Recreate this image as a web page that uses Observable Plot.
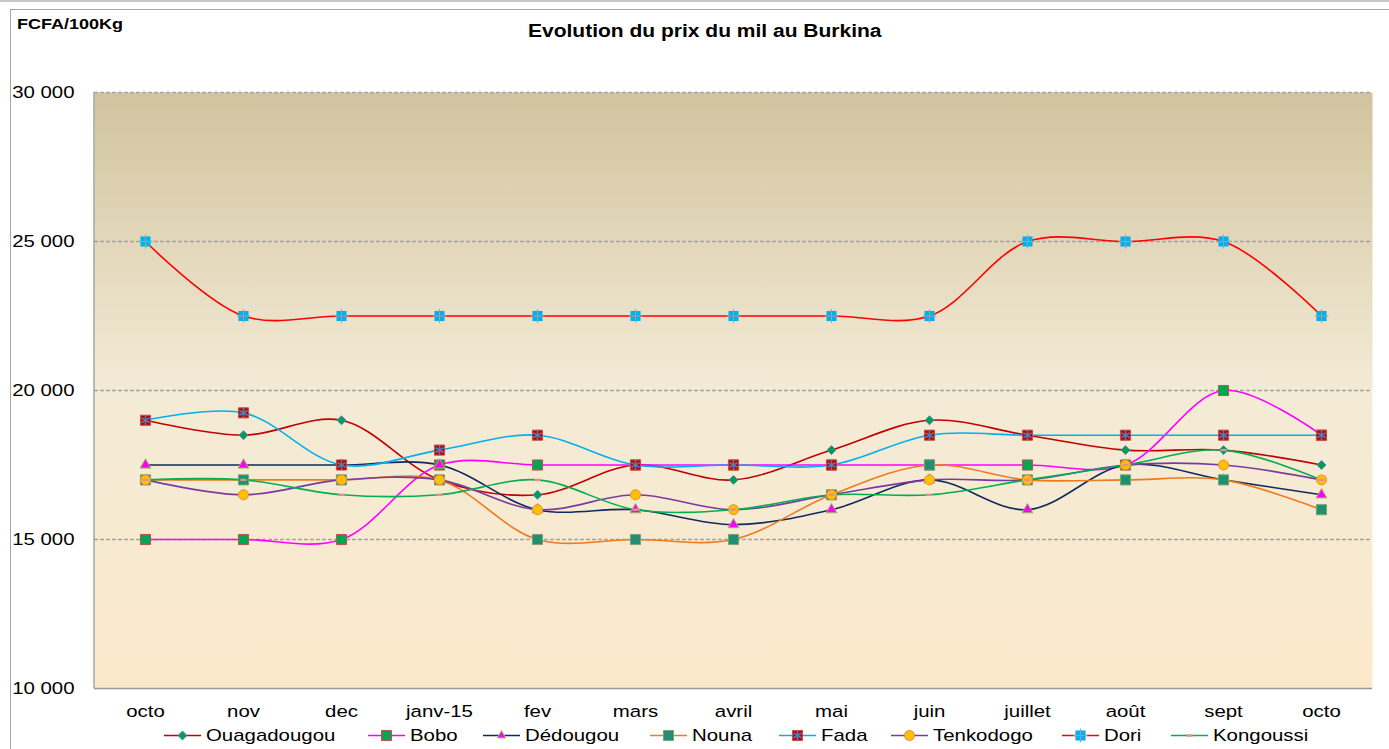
<!DOCTYPE html>
<html><head><meta charset="utf-8">
<script src="https://cdn.jsdelivr.net/npm/d3@7"></script>
<script src="https://cdn.jsdelivr.net/npm/@observablehq/plot@0.6"></script>
<style>
body{margin:0;background:#fff;font-family:"Liberation Sans",Arial,sans-serif;}
#wrap{position:relative;width:1389px;height:749px;overflow:hidden;background:#fff;}
#topband{position:absolute;left:0;top:0;width:1389px;height:2px;background:#c8c8c8;}
#border{position:absolute;left:10px;top:9px;width:1400px;height:800px;border:1px solid #a6a6a6;box-sizing:border-box;}
.stretch{transform:scaleX(1.2);transform-origin:0 50%;}
#ylab{position:absolute;left:17px;top:16px;font-size:15px;line-height:15px;font-weight:bold;color:#000;white-space:nowrap;}
#title{position:absolute;left:528px;top:22px;font-size:17.5px;line-height:18px;font-weight:bold;color:#000;white-space:nowrap;}
#wrap svg{position:absolute;left:0;top:0;}
.leg{position:absolute;top:725px;height:20px;}
.leg svg{position:absolute;left:0;top:0;}
.leg span{position:absolute;top:2px;font-size:17px;line-height:17px;white-space:nowrap;color:#000;}
</style></head><body>
<div id="wrap">
  <div id="topband"></div>
  <div id="border"></div>
  <div id="ylab" class="stretch">FCFA/100Kg</div>
  <div id="title" class="stretch">Evolution du prix du mil au Burkina</div>
</div>
<script>
// ---- data ----
const months = ["octo","nov","dec","janv-15","fev","mars","avril","mai","juin","juillet","août","sept","octo"];
const seriesNames = ["Ouagadougou","Bobo","Dédougou","Nouna","Fada","Tenkodogo","Dori","Kongoussi"];
const ouagadougou = [19000,18500,19000,17000,16500,17500,17000,18000,19000,18500,18000,18000,17500];
const bobo        = [15000,15000,15000,17500,17500,17500,17500,17500,17500,17500,17500,20000,18500];
const dedougou    = [17500,17500,17500,17500,16000,16000,15500,16000,17000,16000,17500,17000,16500];
const nouna       = [17000,17000,17000,17000,15000,15000,15000,16500,17500,17000,17000,17000,16000];
const fada        = [19000,19250,17500,18000,18500,17500,17500,17500,18500,18500,18500,18500,18500];
const tenkodogo   = [17000,16500,17000,17000,16000,16500,16000,16500,17000,17000,17500,17500,17000];
const dori        = [25000,22500,22500,22500,22500,22500,22500,22500,22500,25000,25000,25000,22500];
const kongoussi   = [17000,17000,16500,16500,17000,16000,16000,16500,16500,17000,17500,18000,17000];
const yTicks = [10000,15000,20000,25000,30000];
const gridValues = [15000,20000,25000,30000];

// ---- styles ----
const dash = {draw(ctx, size){ const r = Math.sqrt(size/Math.PI); ctx.rect(-r*1.2, -r*0.45, 2.4*r, 0.9*r); }};
const styles = [
  {values: ouagadougou, line:"#c00000", marks:[{symbol:"diamond2", r:4.0, fill:"#00a050", stroke:"#4f81bd"}]},
  {values: bobo,        line:"#ff00ff", marks:[{symbol:"square", r:5.7, fill:"#00a650", stroke:"#c0504d"}]},
  {values: dedougou,    line:"#0f2a5f", marks:[{symbol:"triangle", r:4.0, fill:"#ff00ff", stroke:"#9bbb59"}]},
  {values: nouna,       line:"#ee7a22", marks:[{symbol:"square", r:5.7, fill:"#00a650", stroke:"#7fa07f"},{symbol:"times", r:4.0, fill:"none", stroke:"#4f6f9f", sw:1.3}]},
  {values: fada,        line:"#00b0f0", marks:[{symbol:"square", r:5.7, fill:"#c00000", stroke:"#c0504d"},{symbol:"asterisk", r:4.5, fill:"none", stroke:"#4f81bd", sw:1.5}]},
  {values: tenkodogo,   line:"#7a3aa0", marks:[{symbol:"circle", r:5.0, fill:"#ffc000", stroke:"#e98a3a"}]},
  {values: dori,        line:"#ff0000", marks:[{symbol:"square", r:5.7, fill:"#00b0f0", stroke:"none"},{symbol:"plus", r:4.5, fill:"none", stroke:"#a0a0a0", sw:1}]},
  {values: kongoussi,   line:"#00b050", marks:[{symbol:dash, r:2.6, fill:"#e0928e", stroke:"none"}]}
];

const rows = seriesNames.flatMap((name, k) => styles[k].values.map((v, i) => ({name, i, v})));
const frenchFmt = d3.formatLocale({decimal:",", thousands:"\u00a0", grouping:[3], currency:["",""]}).format(",");

function bgDefs() {
  const ns = "http://www.w3.org/2000/svg";
  const defs = document.createElementNS(ns, "defs");
  defs.innerHTML = '<linearGradient id="bgGrad" x1="0" y1="0" x2="0" y2="1">' +
    '<stop offset="0" stop-color="#d1c39e"/><stop offset="0.5" stop-color="#f3ebd6"/>' +
    '<stop offset="1" stop-color="#fce9cb"/></linearGradient>';
  return defs;
}
function leftLine(index, scales, values, dims) {
  const ns = "http://www.w3.org/2000/svg";
  const l = document.createElementNS(ns, "line");
  l.setAttribute("x1", dims.marginLeft); l.setAttribute("x2", dims.marginLeft);
  l.setAttribute("y1", dims.marginTop); l.setAttribute("y2", dims.height - dims.marginBottom);
  l.setAttribute("stroke", "#969696"); l.setAttribute("stroke-width", 1.3);
  return l;
}

const marks = [
  bgDefs,
  Plot.frame({fill: "url(#bgGrad)", stroke: "none"}),
  Plot.ruleY(gridValues, {stroke: "#a3a3a3", strokeWidth: 1.3, strokeDasharray: "4,2"}),
  Plot.ruleY([yTicks[0]], {stroke: "#969696", strokeWidth: 1.3}),
  leftLine,
  Plot.axisX({tickSize: 0, tickPadding: 16, fontSize: 17, label: null, tickFormat: i => months[i]}),
  Plot.axisY({ticks: yTicks, tickSize: 0, tickPadding: 20, fontSize: 17, label: null, tickFormat: frenchFmt})
];
seriesNames.forEach((name, k) => {
  const s = styles[k];
  const data = rows.filter(d => d.name === name);
  marks.push(Plot.line(data, {x: "i", y: "v", stroke: s.line, strokeWidth: 1.6, curve: "catmull-rom"}));
});
seriesNames.forEach((name, k) => {
  const s = styles[k];
  const data = rows.filter(d => d.name === name);
  s.marks.forEach(m => marks.push(Plot.dot(data, {x: "i", y: "v", symbol: m.symbol, r: m.r, fill: m.fill, stroke: m.stroke, strokeWidth: m.sw || 1})));
});

const chart = Plot.plot({
  width: 1389, height: 749,
  marginLeft: 94, marginRight: 17, marginTop: 92, marginBottom: 61,
  style: {fontFamily: "'Liberation Sans', Arial, sans-serif", background: "transparent", color: "#000"},
  x: {type: "point", domain: d3.range(months.length), padding: 0.5, axis: null, label: null},
  y: {domain: [yTicks[0], yTicks[yTicks.length - 1]], axis: null, label: null},
  marks
});
// widen tick labels horizontally like the reference's stretched text (vertical offsets untouched)
chart.querySelectorAll('g[aria-label="x-axis tick label"] text, g[aria-label="y-axis tick label"] text').forEach(el => {
  const t = el.getAttribute("transform") || "";
  const xa = el.getAttribute("x");
  const x = xa && !/em$/.test(xa) ? +xa : 0;
  if (x) el.removeAttribute("x");
  el.setAttribute("transform", `${t} translate(${x},0) scale(1.2,1)`);
});
const wrap = document.getElementById("wrap");
wrap.insertBefore(chart, document.getElementById("ylab"));

// ---- legend ----
const legendLeft = [164, 368, 483, 650, 779, 891, 1062, 1171];
const symMap = {diamond2: d3.symbolDiamond2, square: d3.symbolSquare, triangle: d3.symbolTriangle2, circle: d3.symbolCircle, times: d3.symbolTimes, asterisk: d3.symbolAsterisk, plus: d3.symbolPlus};
seriesNames.forEach((name, k) => {
  const s = styles[k];
  const div = document.createElement("div");
  div.className = "leg";
  div.style.left = legendLeft[k] + "px";
  let inner = `<svg width="40" height="20"><line x1="0" x2="37" y1="10.5" y2="10.5" stroke="${s.line}" stroke-width="1.6"/>`;
  s.marks.forEach(m => {
    const type = typeof m.symbol === "string" ? symMap[m.symbol] : m.symbol;
    const p = d3.symbol(type, m.r * m.r * Math.PI)();
    inner += `<path transform="translate(18.5,10.5)" d="${p}" fill="${m.fill}" stroke="${m.stroke}" stroke-width="${m.sw || 1}"/>`;
  });
  inner += `</svg><span class="stretch" style="left:42px">${name}</span>`;
  div.innerHTML = inner;
  wrap.appendChild(div);
});
</script>
</body></html>
